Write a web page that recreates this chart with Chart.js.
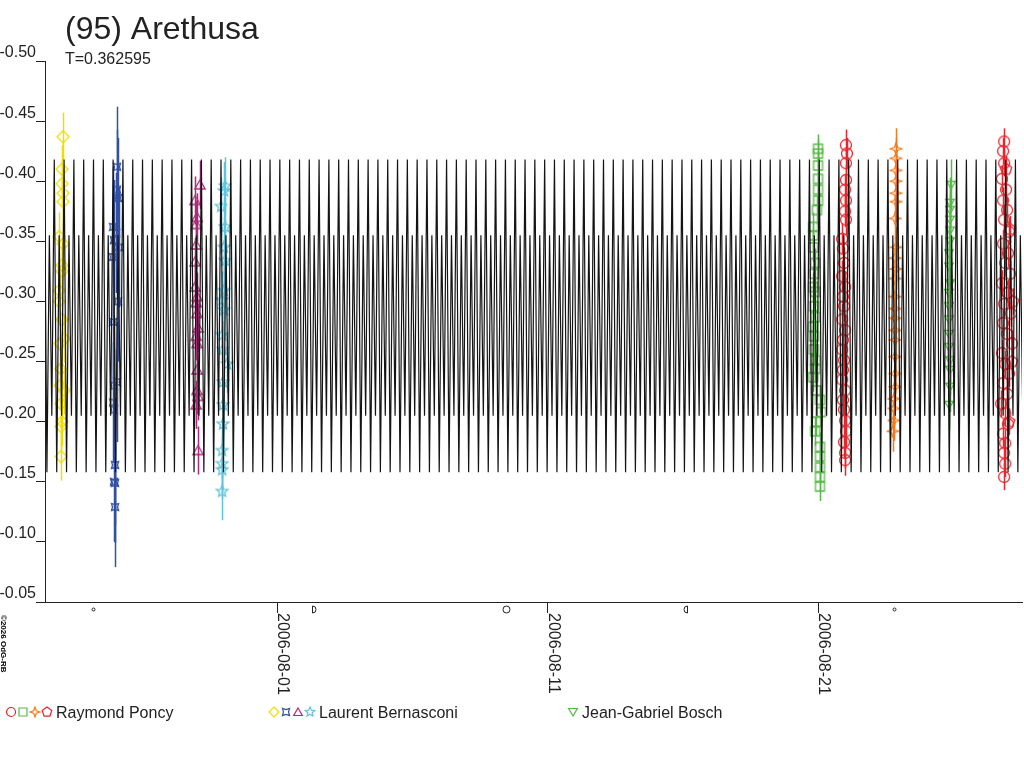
<!DOCTYPE html>
<html>
<head>
<meta charset="utf-8">
<script src="https://cdn.jsdelivr.net/npm/chart.js@4.4.1/dist/chart.umd.min.js"></script>
<style>
  html, body { margin: 0; padding: 0; background: #fff; }
  canvas { display: block; }
</style>
</head>
<body>
<canvas id="lightcurve" width="1024" height="768"></canvas>
<script>
// Time axis: days from 2006-08-01 0h UT
const titleText = '(95) Arethusa';
const periodText = 'T=0.362595';
const period = 0.362595;
const xMin = -8.58, xMax = 27.54;
const dateTicks = [0, 10, 20];
const dateTickLabels = ['2006-08-01', '2006-08-11', '2006-08-21'];
const magTicks = [-0.50, -0.45, -0.40, -0.35, -0.30, -0.25, -0.20, -0.15, -0.10, -0.05];

// model curve: one rotation (max1, min1, max2, min2), repeated at period T
const curveShape = [-0.418, -0.158, -0.355, -0.205];
const curveStart = -8.60;

// moon phases shown under the time axis
const moonDays = [-6.81, 1.37, 8.45, 15.08, 22.80];
const moonKinds = ['new', 'first', 'full', 'last', 'new'];

// Laurent Bernasconi
const yellowT = [-7.91, -7.95, -7.95, -7.91, -7.91, -8.06, -7.91, -7.95, -7.95, -8.06, -8.06, -7.95, -7.87, -8.02, -7.99, -8.02, -7.87, -7.99, -7.95, -7.99, -7.99];
const yellowMag = [-0.437, -0.410, -0.398, -0.390, -0.383, -0.354, -0.348, -0.330, -0.325, -0.309, -0.300, -0.285, -0.269, -0.265, -0.244, -0.230, -0.226, -0.215, -0.200, -0.196, -0.171];
const blueT = [-5.92, -5.92, -5.88, -6.06, -5.95, -6.03, -5.84, -6.06, -5.88, -6.06, -5.92, -6.03, -6.06, -6.03, -5.99, -6.03, -5.99, -5.99];
const blueMag = [-0.412, -0.393, -0.386, -0.362, -0.357, -0.351, -0.345, -0.337, -0.300, -0.283, -0.233, -0.230, -0.216, -0.210, -0.164, -0.150, -0.149, -0.129];
const magentaT = [-2.85, -3.03, -2.96, -2.99, -2.99, -3.03, -3.03, -2.96, -2.99, -2.96, -2.92, -2.99, -2.96, -2.96, -2.96, -2.92, -2.99, -2.92];
const magentaMag = [-0.397, -0.384, -0.370, -0.364, -0.347, -0.333, -0.312, -0.304, -0.299, -0.290, -0.278, -0.271, -0.265, -0.243, -0.226, -0.221, -0.214, -0.176];
const cyanT = [-1.92, -1.96, -2.07, -1.92, -1.96, -1.92, -1.96, -2.03, -1.96, -2.03, -2.00, -1.85, -2.00, -2.00, -2.00, -2.03, -2.03, -2.03, -2.03];
const cyanMag = [-0.396, -0.392, -0.379, -0.362, -0.345, -0.334, -0.309, -0.301, -0.293, -0.272, -0.260, -0.248, -0.233, -0.214, -0.198, -0.176, -0.165, -0.160, -0.142];

// Raymond Poncy
const greenSqT = [20.00, 20.00, 20.00, 20.00, 20.00, 20.00, 19.96, 19.82, 19.82, 19.82, 19.89, 19.85, 19.82, 19.89, 19.85, 19.89, 19.82, 19.85, 19.85, 19.89, 19.89, 19.82, 19.93, 20.07, 20.11, 19.93, 19.89, 20.07, 20.07, 20.07, 20.07, 20.07];
const greenSqMag = [-0.427, -0.423, -0.413, -0.402, -0.393, -0.384, -0.376, -0.362, -0.355, -0.345, -0.332, -0.323, -0.312, -0.308, -0.296, -0.287, -0.279, -0.271, -0.260, -0.251, -0.244, -0.237, -0.226, -0.218, -0.208, -0.200, -0.192, -0.179, -0.171, -0.162, -0.154, -0.146];
const redT = [21.03, 21.07, 21.03, 21.03, 21.00, 21.03, 21.00, 21.03, 20.89, 20.92, 20.96, 20.89, 21.00, 20.92, 20.96, 20.89, 21.00, 20.92, 20.89, 20.96, 20.92, 20.89, 21.00, 20.92, 20.96, 21.00, 21.03, 20.96, 21.00, 21.00];
const redMag = [-0.430, -0.423, -0.415, -0.401, -0.393, -0.384, -0.375, -0.368, -0.352, -0.344, -0.332, -0.321, -0.312, -0.304, -0.296, -0.285, -0.276, -0.268, -0.260, -0.251, -0.243, -0.235, -0.226, -0.218, -0.210, -0.201, -0.192, -0.183, -0.174, -0.168];
const orangeT = [22.88, 22.88, 22.88, 22.88, 22.88, 22.88, 22.85, 22.88, 22.85, 22.88, 22.85, 22.85, 22.85, 22.85, 22.85, 22.85, 22.85, 22.85, 22.85, 22.81, 22.81, 22.81, 22.77];
const orangeMag = [-0.427, -0.419, -0.409, -0.400, -0.390, -0.383, -0.369, -0.345, -0.336, -0.327, -0.319, -0.304, -0.294, -0.286, -0.276, -0.268, -0.254, -0.240, -0.229, -0.219, -0.211, -0.201, -0.192];
const red2T = [26.88, 26.84, 26.88, 26.80, 26.95, 26.84, 26.99, 26.88, 27.06, 26.84, 27.02, 26.92, 27.10, 26.80, 27.02, 26.88, 27.13, 26.84, 26.99, 27.17, 26.80, 26.92, 27.06, 26.84, 26.99, 26.77, 26.92, 27.02, 26.84, 26.92, 26.88, 26.92, 26.88];
const red2Mag = [-0.433, -0.425, -0.415, -0.402, -0.393, -0.384, -0.376, -0.368, -0.358, -0.348, -0.340, -0.332, -0.323, -0.315, -0.307, -0.298, -0.290, -0.282, -0.273, -0.265, -0.257, -0.248, -0.240, -0.232, -0.223, -0.215, -0.207, -0.198, -0.190, -0.182, -0.174, -0.165, -0.154];
const pentT = [26.95, 27.10, 27.21, 27.17, 27.06];
const pentMag = [-0.410, -0.360, -0.300, -0.250, -0.200];

// Jean-Gabriel Bosch
const triDownT = [24.92, 24.88, 24.88, 24.88, 24.88, 24.88, 24.84, 24.84, 24.88, 24.84, 24.84, 24.84, 24.84, 24.84, 24.88, 24.88, 24.88, 24.84];
const triDownMag = [-0.397, -0.382, -0.376, -0.368, -0.359, -0.350, -0.340, -0.329, -0.315, -0.307, -0.296, -0.285, -0.273, -0.262, -0.251, -0.243, -0.229, -0.214];

const FONT = "'Liberation Sans', Arial, sans-serif";
const INK = '#222';

const COLORS = {
    red: '#e8262e',
    green: '#58b848',
    orange: '#f27a1e',
    yellow: '#eedd00',
    blue: '#3350a2',
    magenta: '#b02a7c',
    cyan: '#5ec4dc'
};

// small outline markers drawn on their own canvases
function polyPath(g, cx, cy, n, outer, inner, rot) {
    const steps = inner == null ? n : n * 2;
    for (let i = 0; i < steps; i++) {
        const a = rot + i * Math.PI * 2 / steps;
        const r = (inner == null || i % 2 === 0) ? outer : inner;
        const px = cx + r * Math.cos(a), py = cy + r * Math.sin(a);
        if (i === 0) g.moveTo(px, py); else g.lineTo(px, py);
    }
    g.closePath();
}

function makeMarker(shape, color, size, lw) {
    const c = document.createElement('canvas');
    const s = size + 2;
    c.width = s; c.height = s;
    const g = c.getContext('2d');
    const m = s / 2, r = size / 2;
    g.strokeStyle = color;
    g.lineWidth = lw || 1.3;
    g.beginPath();
    if (shape === 'circle') g.arc(m, m, r - 0.5, 0, Math.PI * 2);
    else if (shape === 'square') g.rect(m - r + 1, m - r + 1, size - 2, size - 2);
    else if (shape === 'star4') polyPath(g, m, m, 4, r, r * 0.35, -Math.PI / 2);
    else if (shape === 'pentagon') polyPath(g, m, m, 5, r, null, -Math.PI / 2);
    else if (shape === 'diamond') polyPath(g, m, m, 4, r, null, -Math.PI / 2);
    else if (shape === 'xsquare') polyPath(g, m, m, 4, r, r * 0.5, -Math.PI / 4);
    else if (shape === 'triangle') polyPath(g, m, m + 1, 3, r, null, -Math.PI / 2);
    else if (shape === 'star5') polyPath(g, m, m, 5, r, r * 0.45, -Math.PI / 2);
    else if (shape === 'tridown') polyPath(g, m, m - 1, 3, r, null, Math.PI / 2);
    g.stroke();
    return c;
}

const points = (ts, ms) => ts.map((t, i) => ({ x: t, y: ms[i] }));

// model light curve points
const curvePoints = [];
for (let k = 0; curveStart + k * period <= xMax + period; k++) {
    curveShape.forEach((mag, j) => {
        curvePoints.push({ x: curveStart + (k + j / curveShape.length) * period, y: mag });
    });
}

const series = [
    { t: yellowT, m: yellowMag, shape: 'diamond', color: COLORS.yellow, size: 12, err: 0.020 },
    { t: blueT, m: blueMag, shape: 'xsquare', color: COLORS.blue, size: 10, err: 0.050 },
    { t: magentaT, m: magentaMag, shape: 'triangle', color: COLORS.magenta, size: 12, err: 0.020 },
    { t: cyanT, m: cyanMag, shape: 'star5', color: COLORS.cyan, size: 12, err: 0.024 },
    { t: greenSqT, m: greenSqMag, shape: 'square', color: COLORS.green, size: 11, err: 0.012 },
    { t: redT, m: redMag, shape: 'circle', color: COLORS.red, size: 12, err: 0.013 },
    { t: orangeT, m: orangeMag, shape: 'star4', color: COLORS.orange, size: 12, err: 0.017 },
    { t: triDownT, m: triDownMag, shape: 'tridown', color: COLORS.green, size: 10, err: 0.021 },
    { t: red2T, m: red2Mag, shape: 'circle', color: COLORS.red, size: 12, err: 0.011 },
    { t: pentT, m: pentMag, shape: 'pentagon', color: COLORS.red, size: 12, err: 0.011 }
];

const datasets = [{
    data: curvePoints,
    showLine: true,
    borderColor: '#141414',
    borderWidth: 1.2,
    pointRadius: 0,
    tension: 0
}].concat(series.map(s => ({
    data: points(s.t, s.m),
    showLine: false,
    pointStyle: makeMarker(s.shape, s.color, s.size),
    pointRadius: 5,
    borderColor: s.color,
    backgroundColor: s.color,
    errColor: s.color,
    err: s.err
})));

const legendGroups = [
    { label: 'Raymond Poncy', x: 5, marks: [['circle', COLORS.red], ['square', COLORS.green], ['star4', COLORS.orange], ['pentagon', COLORS.red]] },
    { label: 'Laurent Bernasconi', x: 268, marks: [['diamond', COLORS.yellow], ['xsquare', COLORS.blue], ['triangle', COLORS.magenta], ['star5', COLORS.cyan]] },
    { label: 'Jean-Gabriel Bosch', x: 567, marks: [['tridown', COLORS.green]] }
];

// error bars under each observer's markers
const errorBars = {
    id: 'errorBars',
    beforeDatasetDraw(chart, args) {
        const ds = chart.data.datasets[args.index];
        if (!ds.err) return;
        const { x, y } = chart.scales;
        const ctx = chart.ctx;
        ctx.save();
        ctx.strokeStyle = ds.errColor;
        ctx.lineWidth = 1.5;
        ds.data.forEach(p => {
            const px = Math.round(x.getPixelForValue(p.x)) + 0.5;
            ctx.beginPath();
            ctx.moveTo(px, y.getPixelForValue(p.y - ds.err));
            ctx.lineTo(px, y.getPixelForValue(p.y + ds.err));
            ctx.stroke();
        });
        ctx.restore();
    }
};

// title, rotated date labels, moon phases, legend, credit
const decorations = {
    id: 'decorations',
    afterDraw(chart) {
        const ctx = chart.ctx;
        const xs = chart.scales.x;
        const bottom = chart.chartArea.bottom;
        ctx.save();
        ctx.fillStyle = INK;
        ctx.strokeStyle = INK;
        ctx.textBaseline = 'alphabetic';
        ctx.textAlign = 'left';

        ctx.font = '32px ' + FONT;
        ctx.fillText(titleText, 65, 39);
        ctx.font = '16px ' + FONT;
        ctx.fillText(periodText, 65, 64);

        // date labels read top to bottom
        dateTicks.forEach((v, i) => {
            const px = Math.round(xs.getPixelForValue(v));
            ctx.save();
            ctx.translate(px + 1, bottom + 11);
            ctx.rotate(Math.PI / 2);
            ctx.font = '16px ' + FONT;
            ctx.fillText(dateTickLabels[i], 0, 0);
            ctx.restore();
        });

        // moon phase symbols
        ctx.lineWidth = 1;
        moonDays.forEach((d, i) => {
            const px = Math.round(xs.getPixelForValue(d)) + 0.5;
            const py = bottom + 7.5;
            const kind = moonKinds[i];
            ctx.beginPath();
            if (kind === 'full') {
                ctx.arc(px, py, 3.5, 0, Math.PI * 2);
            } else if (kind === 'first') {
                ctx.moveTo(px - 2, py - 3.5);
                ctx.lineTo(px - 2, py + 3.5);
                ctx.arc(px - 2, py, 3.5, Math.PI / 2, -Math.PI / 2, true);
            } else if (kind === 'last') {
                ctx.moveTo(px + 2, py - 3.5);
                ctx.lineTo(px + 2, py + 3.5);
                ctx.arc(px + 2, py, 3.5, Math.PI / 2, -Math.PI / 2, false);
            } else {
                ctx.arc(px, py, 1.5, 0, Math.PI * 2);
            }
            ctx.stroke();
        });

        // legend
        ctx.font = '16px ' + FONT;
        legendGroups.forEach(grp => {
            let lx = grp.x;
            grp.marks.forEach(([shape, color]) => {
                const mk = makeMarker(shape, color, 10, 1.2);
                ctx.drawImage(mk, lx, 712 - mk.height / 2);
                lx += 12;
            });
            ctx.fillText(grp.label, lx + 3, 718);
        });

        // credit line on the left edge
        ctx.save();
        ctx.translate(1, 615);
        ctx.rotate(Math.PI / 2);
        ctx.font = 'bold 8px ' + FONT;
        ctx.fillStyle = '#000';
        ctx.fillText('\u00a92026 OdG-RB', 0, 0);
        ctx.restore();

        ctx.restore();
    }
};

new Chart(document.getElementById('lightcurve'), {
    type: 'scatter',
    data: { datasets },
    options: {
        responsive: false,
        devicePixelRatio: 1,
        animation: false,
        events: [],
        layout: { autoPadding: false, padding: { left: 0, top: 61, right: 2, bottom: 155 } },
        plugins: {
            legend: { display: false },
            tooltip: { enabled: false },
            title: { display: false }
        },
        scales: {
            x: {
                type: 'linear',
                min: xMin,
                max: xMax,
                afterBuildTicks: s => { s.ticks = dateTicks.map(v => ({ value: v })); },
                ticks: { display: false },
                grid: { drawOnChartArea: false, drawTicks: true, tickLength: 11, color: INK, tickColor: INK },
                border: { display: true, color: INK, width: 1 },
                afterFit: s => { s.height = 11; }
            },
            y: {
                type: 'linear',
                min: -0.5,
                max: -0.05,
                reverse: true,
                afterBuildTicks: s => { s.ticks = magTicks.map(v => ({ value: v })); },
                ticks: {
                    callback: v => Number(v).toFixed(2),
                    font: { family: FONT, size: 16 },
                    color: INK,
                    padding: 0,
                    labelOffset: -8
                },
                grid: { drawOnChartArea: false, drawTicks: true, tickLength: 9, color: INK, tickColor: INK },
                border: { display: true, color: INK, width: 1 },
                afterFit: s => { s.width = 45; }
            }
        }
    },
    plugins: [errorBars, decorations]
});
</script>
</body>
</html>
